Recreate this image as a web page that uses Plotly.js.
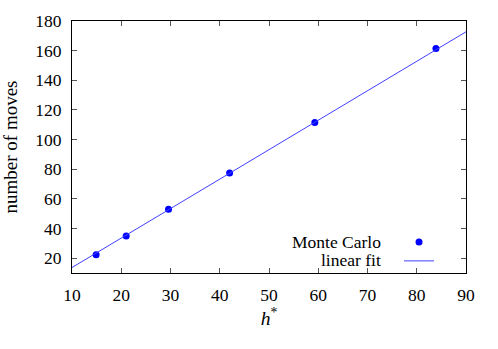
<!DOCTYPE html>
<html>
<head>
<meta charset="utf-8">
<script src="https://cdn.plot.ly/plotly-3.0.1.min.js"></script>
<style>
  html, body { margin: 0; padding: 0; background: #fff; }
  #chart { width: 498px; height: 349px; }
</style>
</head>
<body>
<div id="chart"></div>
<script>
// Pontos do Monte Carlo (h*, número de movimentos)
const hStar = [14.9, 21.0, 29.6, 42.0, 59.3, 83.9];
const moves = [22.3, 35.0, 53.0, 77.4, 111.5, 161.4];

const fitX = [10, 90];
const fitY = [13.7, 172.7];

// Textos da legenda
const legendNames = ['Monte Carlo', 'linear fit'];

const serif = "'Liberation Serif', 'DejaVu Serif', serif";

const traceFit = {
    x: fitX,
    y: fitY,
    type: 'scatter',
    mode: 'lines',
    name: ' ',
    line: { color: '#4040ff', width: 1 }
};

const tracePts = {
    x: hStar,
    y: moves,
    type: 'scatter',
    mode: 'markers',
    name: ' ',
    marker: { color: '#0000ff', size: 7, symbol: 'circle' }
};

const axisBase = {
    showgrid: false,
    zeroline: false,
    showline: true,
    mirror: 'ticks',
    linecolor: '#000',
    linewidth: 1,
    ticks: 'inside',
    ticklen: 5,
    tickcolor: '#555',
    tickfont: { family: serif, size: 17.5, color: '#000' }
};

const layout = {
    width: 498,
    height: 349,
    margin: { l: 72, r: 32, t: 21, b: 76 },
    paper_bgcolor: '#fff',
    plot_bgcolor: '#fff',
    font: { family: serif, color: '#000' },
    xaxis: Object.assign({}, axisBase, {
        range: [10, 90],
        dtick: 10,
        tick0: 10,
        ticklabelstandoff: 6,
        title: { text: '<i>h</i><sup>*</sup>', font: { family: serif, size: 19.5 }, standoff: 4 }
    }),
    yaxis: Object.assign({}, axisBase, {
        range: [10, 180],
        dtick: 20,
        tick0: 0,
        ticklabelstandoff: 6,
        title: { text: 'number of moves', font: { family: serif, size: 19 }, standoff: 12 }
    }),
    showlegend: true,
    legend: {
        x: 0.83,
        xanchor: 'left',
        y: 0.181,
        yanchor: 'top',
        bgcolor: 'rgba(0,0,0,0)',
        borderwidth: 0,
        font: { family: serif, size: 12 },
        traceorder: 'normal'
    },
    annotations: legendNames.map((t, i) => ({
        text: t,
        xref: 'paper',
        yref: 'paper',
        x: 0.79,
        xanchor: 'right',
        y: 0.122 - i * 0.07,
        yanchor: 'middle',
        showarrow: false,
        font: { family: serif, size: 17.5, color: '#000' }
    }))
};

Plotly.newPlot('chart', [tracePts, traceFit], layout, { displayModeBar: false, staticPlot: true });
</script>
</body>
</html>
